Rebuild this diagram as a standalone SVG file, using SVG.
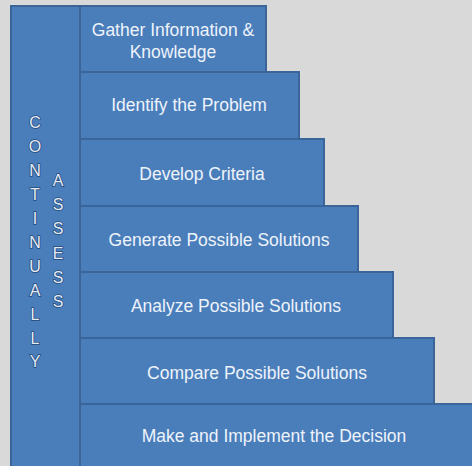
<svg xmlns="http://www.w3.org/2000/svg" width="472" height="466" viewBox="0 0 472 466">
<style>
.box{fill:#4a7ebb;stroke:#3a659a;stroke-width:2}
.lbl{font-family:"Liberation Sans",Arial,sans-serif;font-size:17.5px;fill:#eef3fa;text-anchor:middle;dominant-baseline:central}
.v{font-family:"Liberation Sans",Arial,sans-serif;font-size:16px;fill:#e4ecf8;stroke:#24497a;stroke-width:1.6;paint-order:stroke;text-anchor:middle;dominant-baseline:central}
</style>
<rect width="472" height="466" fill="#d9d9d9"/>
<g id="side">
<rect class="box" x="11" y="6" width="69" height="462"/>
<text class="v" x="35" y="122">C</text>
<text class="v" x="35" y="146">O</text>
<text class="v" x="35" y="170">N</text>
<text class="v" x="35" y="194">T</text>
<text class="v" x="35" y="218">I</text>
<text class="v" x="35" y="242">N</text>
<text class="v" x="35" y="266">U</text>
<text class="v" x="35" y="290">A</text>
<text class="v" x="35" y="314">L</text>
<text class="v" x="35" y="338">L</text>
<text class="v" x="35" y="361">Y</text>
<text class="v" x="58" y="180">A</text>
<text class="v" x="58" y="204">S</text>
<text class="v" x="58" y="228">S</text>
<text class="v" x="58" y="253">E</text>
<text class="v" x="58" y="277">S</text>
<text class="v" x="58" y="301">S</text>
</g>
<g id="step7"><rect class="box" x="80" y="404" width="394" height="64"/><text class="lbl" x="274" y="436">Make and Implement the Decision</text></g>
<g id="step6"><rect class="box" x="80" y="338" width="354" height="66"/><text class="lbl" x="257" y="373">Compare Possible Solutions</text></g>
<g id="step5"><rect class="box" x="80" y="272" width="313" height="66"/><text class="lbl" x="236" y="306">Analyze Possible Solutions</text></g>
<g id="step4"><rect class="box" x="80" y="206" width="278" height="66"/><text class="lbl" x="219" y="240">Generate Possible Solutions</text></g>
<g id="step3"><rect class="box" x="80" y="139" width="244" height="67"/><text class="lbl" x="202" y="174">Develop Criteria</text></g>
<g id="step2"><rect class="box" x="80" y="72" width="219" height="67"/><text class="lbl" x="189" y="105">Identify the Problem</text></g>
<g id="step1"><rect class="box" x="80" y="6" width="186" height="66"/><text class="lbl" x="173" y="30">Gather Information &amp;</text><text class="lbl" x="173" y="52">Knowledge</text></g>
</svg>
